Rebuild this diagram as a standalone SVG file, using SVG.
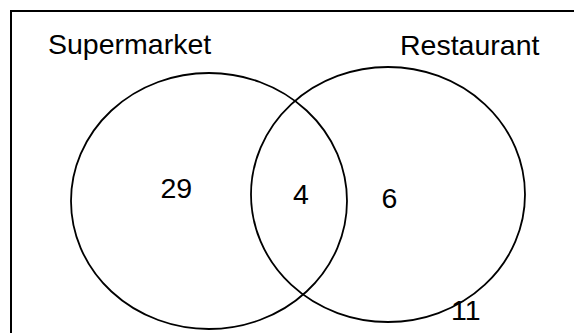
<svg xmlns="http://www.w3.org/2000/svg" width="574" height="333" viewBox="0 0 574 333">
  <style>
    .frame { fill: none; stroke: #000; stroke-width: 2; }
    .set { fill: none; stroke: #000; stroke-width: 1.8; }
    .lbl { font-family: "Liberation Sans", Arial, sans-serif; font-size: 28.5px; fill: #000; }
  </style>
  <rect width="574" height="333" fill="#fff"/>
  <!-- universal set frame: top and left edges -->
  <g id="universe">
    <path class="frame" d="M11 340 V11 H580"/>
  </g>
  <g id="supermarket">
    <ellipse class="set" cx="209" cy="201" rx="138" ry="128"/>
    <text class="lbl" x="48" y="54">Supermarket</text>
  </g>
  <g id="restaurant">
    <ellipse class="set" cx="388" cy="194.5" rx="137" ry="127.5"/>
    <text class="lbl" x="400" y="55">Restaurant</text>
  </g>
  <g id="counts">
    <text class="lbl" x="160.5" y="198">29</text>
    <text class="lbl" x="293" y="204">4</text>
    <text class="lbl" x="381.5" y="208">6</text>
    <text class="lbl" x="451" y="320">11</text>
  </g>
</svg>
